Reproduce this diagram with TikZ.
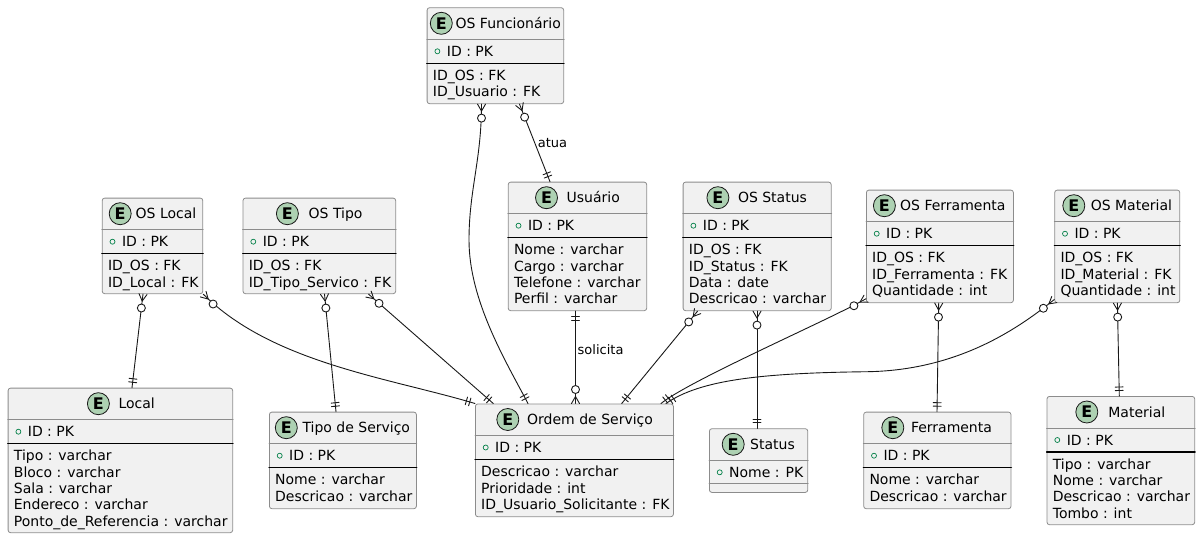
\documentclass[tikz,border=0pt]{standalone}
\usepackage{fontspec}
\setmainfont{DejaVu Sans}
\usetikzlibrary{calc}

\definecolor{boxfill}{HTML}{F1F1F1}
\definecolor{boxline}{HTML}{8C8C8C}
\definecolor{linkline}{HTML}{181818}
\definecolor{egreen}{HTML}{ADD1B2}
\definecolor{pkgreen}{HTML}{038048}

% entity box: name, top left, width, height, circle x, title x, title, key, fields
\newcommand{\erentity}[9]{%
  \node[ent, minimum width=#3, minimum height=#4] (#1) at (#2) {};
  \draw[hsep] ([yshift=-32pt]#1.north west) -- ([yshift=-32pt]#1.north east);
  \draw[ksep] ([yshift=-56pt]#1.north west) -- ([yshift=-56pt]#1.north east);
  \node[ecirc] (#1-c) at ([xshift=#5, yshift=-16pt]#1.north west) {E};
  \node[etitle] (#1-t) at ([xshift=#6, yshift=-21pt]#1.north west) {#7};
  \node[pkdot] (#1-d) at ([xshift=10.7pt, yshift=-44pt]#1.north west) {};
  \node[pkrow] (#1-k) at ([xshift=20pt, yshift=-49pt]#1.north west) {#8};
  \node[fields] (#1-f) at ([xshift=6pt, yshift=-61.6pt]#1.north west) {\strut #9};}

% zero-or-many end at #1, line leaving towards #2
\newcommand{\manyend}[2]{%
  \coordinate (me) at ($(#1)!7pt!(#2)$);
  \draw[link] ($(#1)!4pt!90:(#2)$) -- (me) -- ($(#1)!4pt!-90:(#2)$);
  \draw[link, fill=white] ($(#1)!14pt!(#2)$) circle (4pt);}

% exactly-one end at #1, line leaving towards #2
\newcommand{\oneend}[2]{%
  \coordinate (t1) at ($(#1)!5.5pt!(#2)$);
  \coordinate (t2) at ($(#1)!9pt!(#2)$);
  \draw[link] ($(t1)!4pt!90:(#2)$) -- ($(t1)!4pt!-90:(#2)$);
  \draw[link] ($(t2)!4pt!90:(#2)$) -- ($(t2)!4pt!-90:(#2)$);}

\begin{document}
\begin{tikzpicture}[x=1pt, y=-1pt, line cap=round, line join=round,
  ent/.style={draw=boxline, fill=boxfill, line width=0.8pt, rounded corners=2.5pt,
    anchor=north west, inner sep=0pt},
  hsep/.style={draw=boxline, line width=0.8pt},
  ksep/.style={draw=black, line width=1.2pt},
  ecirc/.style={circle, draw=linkline, fill=egreen, line width=0.8pt, minimum size=22pt,
    inner sep=0pt, font=\bfseries\fontsize{16}{16}\selectfont},
  etitle/.style={anchor=base west, inner sep=0pt, font=\fontsize{14}{16.3}\selectfont},
  pkdot/.style={circle, draw=pkgreen, line width=0.7pt, minimum size=5pt, inner sep=0pt},
  pkrow/.style={anchor=base west, inner sep=0pt, font=\fontsize{14}{16.3}\selectfont},
  fields/.style={anchor=north west, align=left, inner sep=0pt, font=\fontsize{14}{16.3}\selectfont},
  link/.style={draw=linkline, line width=0.9pt},
  lbl/.style={anchor=west, inner sep=0pt, font=\fontsize{13}{15}\selectfont}]

\useasboundingbox (0,0) rectangle (1199,538);

% Entities of the top row
\erentity{osfunc}{426.7,7.3}{136.6pt}{96pt}{14.6pt}{28.7pt}{OS Funcionário}{ID : PK}{ID\_OS : FK\\ID\_Usuario : FK}
\erentity{oslocal}{101.8,197.7}{100.6pt}{95.6pt}{18.4pt}{33.7pt}{OS Local}{ID : PK}{ID\_OS : FK\\ID\_Local : FK}
\erentity{ostipo}{242.6,197.7}{152.7pt}{95.6pt}{44.8pt}{65.9pt}{OS Tipo}{ID : PK}{ID\_OS : FK\\ID\_Tipo\_Servico : FK}
\erentity{usuario}{507.8,181.7}{138.5pt}{128.6pt}{38.7pt}{58.6pt}{Usuário}{ID : PK}{Nome : varchar\\Cargo : varchar\\Telefone : varchar\\Perfil : varchar}
\erentity{osstatus}{682.7,181.7}{148.1pt}{128.6pt}{35.2pt}{55.1pt}{OS Status}{ID : PK}{ID\_OS : FK\\ID\_Status : FK\\Data : date\\Descricao : varchar}
\erentity{osferr}{866,189.7}{147pt}{112.6pt}{18.4pt}{34pt}{OS Ferramenta}{ID : PK}{ID\_OS : FK\\ID\_Ferramenta : FK\\Quantidade : int}
\erentity{osmat}{1054.3,189.7}{125.1pt}{112.6pt}{19.5pt}{36.3pt}{OS Material}{ID : PK}{ID\_OS : FK\\ID\_Material : FK\\Quantidade : int}

% Entities of the bottom row
\erentity{local}{7.7,387.7}{224.6pt}{144.6pt}{90.7pt}{110.6pt}{Local}{ID : PK}{Tipo : varchar\\Bloco : varchar\\Sala : varchar\\Endereco : varchar\\Ponto\_de\_Referencia : varchar}
\erentity{tiposerv}{269,411.7}{147pt}{96.6pt}{17.3pt}{33.3pt}{Tipo de Serviço}{ID : PK}{Nome : varchar\\Descricao : varchar}
\erentity{ordem}{475,403.5}{198pt}{112.8pt}{32.8pt}{52pt}{Ordem de Serviço}{ID : PK}{Descricao : varchar\\Prioridade : int\\ID\_Usuario\_Solicitante : FK}
\erentity{ferr}{863.3,411.7}{147.3pt}{96.6pt}{29.5pt}{47.5pt}{Ferramenta}{ID : PK}{Nome : varchar\\Descricao : varchar}
\erentity{material}{1046.6,396}{147.7pt}{128.3pt}{40.2pt}{61.6pt}{Material}{ID : PK}{Tipo : varchar\\Nome : varchar\\Descricao : varchar\\Tombo : int}

% Status has only its key
\node[ent, minimum width=98.4pt, minimum height=63.7pt] (status) at (709,428.3) {};
\draw[hsep] ([yshift=-32pt]status.north west) -- ([yshift=-32pt]status.north east);
\draw[hsep] ([yshift=-55pt]status.north west) -- ([yshift=-55pt]status.north east);
\node[ecirc] (status-c) at ([xshift=24.2pt, yshift=-16pt]status.north west) {E};
\node[etitle] (status-t) at ([xshift=41pt, yshift=-21pt]status.north west) {Status};
\node[pkdot] (status-d) at ([xshift=10.7pt, yshift=-44pt]status.north west) {};
\node[pkrow] (status-k) at ([xshift=20pt, yshift=-49pt]status.north west) {Nome : PK};

% Connector ends
\coordinate (f1) at ([xshift=54.8pt]osfunc.south west);
\coordinate (f2) at ([xshift=92.8pt]osfunc.south west);
\coordinate (u1) at ([xshift=42.2pt]usuario.north west);
\coordinate (u2) at ([xshift=67.7pt]usuario.south west);
\coordinate (l1) at ([xshift=41.2pt]oslocal.south west);
\coordinate (l2) at ([xshift=124.3pt]local.north west);
\coordinate (p1) at ([xshift=81.9pt]ostipo.south west);
\coordinate (p2) at ([xshift=125.9pt]ostipo.south west);
\coordinate (p3) at ([xshift=67pt]tiposerv.north west);
\coordinate (s1) at ([xshift=14.9pt]osstatus.south west);
\coordinate (s2) at ([xshift=74.3pt]osstatus.south west);
\coordinate (s3) at ([xshift=48pt]status.north west);
\coordinate (r1) at ([yshift=4.4pt]osferr.south west);
\coordinate (r2) at ([xshift=72.7pt]osferr.south west);
\coordinate (r3) at ([xshift=73.7pt]ferr.north west);
\coordinate (m1) at ([yshift=3.6pt]osmat.south west);
\coordinate (m2) at ([xshift=63.1pt]osmat.south west);
\coordinate (m3) at ([xshift=72.7pt]material.north west);
\coordinate (o1) at ([xshift=18.3pt]ordem.north west);
\coordinate (o2) at ([xshift=53pt]ordem.north west);
\coordinate (o3) at ([xshift=100.5pt]ordem.north west);
\coordinate (o4) at ([xshift=146.7pt]ordem.north west);
\coordinate (o5) at ([xshift=186pt]ordem.north west);
\coordinate (o6) at ([xshift=191pt]ordem.north west);

% Lines to Ordem de Servico
\draw[link] (f1) .. controls (481.5,160) and (469,190) .. (469,240)
  .. controls (469,300) and (505,360) .. (o2);
\manyend{f1}{481.5,160} \oneend{o2}{505,360}
\draw[link] (oslocal.south east) .. controls (272,363) and (390,378) .. (ordem.north west);
\manyend{oslocal.south east}{272,363} \oneend{ordem.north west}{390,378}
\draw[link] (p2) -- (o1);
\manyend{p2}{o1} \oneend{o1}{p2}
\draw[link] (u2) -- (o3);
\oneend{u2}{o3} \manyend{o3}{u2}
\draw[link] (s1) -- (o4);
\manyend{s1}{o4} \oneend{o4}{s1}
\draw[link] (r1) .. controls (831.9,318.6) and (690,380) .. (o5);
\manyend{r1}{831.9,318.6} \oneend{o5}{690,380}
\draw[link] (m1) .. controls (1020,327) and (960,370) .. (868,371.7)
  .. controls (760,373) and (700,380) .. (o6);
\manyend{m1}{1020,327} \oneend{o6}{700,380}

% Lines to the other entities
\draw[link] (f2) -- (u1);
\manyend{f2}{u1} \oneend{u1}{f2}
\draw[link] (l1) -- (l2);
\manyend{l1}{l2} \oneend{l2}{l1}
\draw[link] (p1) -- (p3);
\manyend{p1}{p3} \oneend{p3}{p1}
\draw[link] (s2) -- (s3);
\manyend{s2}{s3} \oneend{s3}{s2}
\draw[link] (r2) -- (r3);
\manyend{r2}{r3} \oneend{r3}{r2}
\draw[link] (m2) -- (m3);
\manyend{m2}{m3} \oneend{m3}{m2}

% Relation labels
\node[lbl] (atua) at (537.7,142.7) {atua};
\node[lbl] (solicita) at (577.5,349.3) {solicita};

\end{tikzpicture}
\end{document}
